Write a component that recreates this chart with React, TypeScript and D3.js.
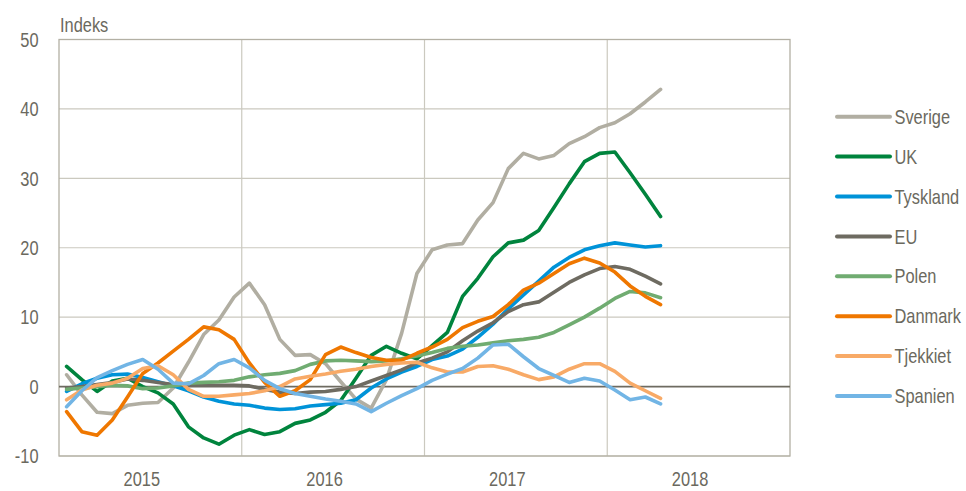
import React, { useRef, useEffect } from "react";
import * as d3 from "d3";

// monthly index values, Jan 2015 - Apr 2018
const years = ["2015", "2016", "2017", "2018"];
const yTicks = [-10, 0, 10, 20, 30, 40, 50];

const sverige = [1.7, -1.2, -3.7, -3.9, -2.7, -2.4, -2.3, -0.2, 3.5, 7.5, 9.6, 12.9, 14.9, 11.8, 6.8, 4.5, 4.6, 3.3, 0.7, -1.8, -3.1, 1.0, 7.7, 16.3, 19.7, 20.4, 20.6, 24.0, 26.5, 31.4, 33.6, 32.8, 33.3, 35.0, 36.0, 37.3, 38.0, 39.3, 41.0, 42.8];
const uk = [2.9, 1.0, -0.7, 0.8, 1.2, 0.0, -0.9, -2.5, -5.8, -7.4, -8.3, -7.0, -6.2, -6.9, -6.5, -5.3, -4.8, -3.7, -2.0, 1.2, 4.5, 5.8, 4.8, 4.0, 5.9, 7.8, 13.0, 15.6, 18.7, 20.7, 21.1, 22.5, 25.8, 29.2, 32.4, 33.6, 33.8, 30.8, 27.7, 24.5];
const tyskland = [-0.7, 0.4, 1.2, 1.7, 1.8, 1.3, 0.7, 0.1, -0.6, -1.5, -2.1, -2.5, -2.7, -3.1, -3.3, -3.2, -2.8, -2.6, -2.4, -1.9, -0.2, 1.1, 2.1, 2.9, 3.9, 4.4, 5.4, 7.1, 9.0, 11.2, 13.2, 15.2, 17.2, 18.6, 19.7, 20.3, 20.7, 20.4, 20.1, 20.3];
const eu = [-0.2, 0.0, 0.3, 0.6, 1.1, 0.9, 0.6, 0.3, 0.2, 0.2, 0.2, 0.2, 0.1, -0.4, -0.8, -1.0, -0.8, -0.7, -0.4, 0.0, 0.8, 1.6, 2.4, 3.4, 4.1, 5.0, 6.6, 8.0, 9.2, 10.8, 11.8, 12.2, 13.6, 15.0, 16.1, 17.0, 17.3, 16.9, 15.9, 14.8];
const polen = [-0.4, -0.2, 0.0, 0.2, 0.1, -0.3, -0.2, 0.1, 0.5, 0.6, 0.7, 0.9, 1.4, 1.7, 1.9, 2.3, 3.2, 3.7, 3.8, 3.7, 3.6, 3.7, 4.0, 4.4, 4.9, 5.5, 5.8, 6.0, 6.3, 6.6, 6.8, 7.1, 7.8, 8.9, 10.0, 11.3, 12.7, 13.7, 13.5, 12.8];
const danmark = [-3.6, -6.5, -7.0, -4.8, -1.5, 1.9, 3.4, 5.1, 6.8, 8.6, 8.2, 6.8, 3.4, 0.6, -1.4, -0.6, 1.0, 4.6, 5.7, 4.9, 4.2, 3.8, 3.8, 4.8, 5.7, 6.8, 8.5, 9.4, 10.1, 11.8, 13.9, 14.9, 16.3, 17.7, 18.5, 17.8, 16.5, 14.5, 13.0, 11.8];
const tjekkiet = [-1.9, -0.5, 0.2, 0.5, 1.2, 2.6, 3.0, 1.7, -0.4, -1.4, -1.4, -1.2, -1.0, -0.6, 0.0, 1.1, 1.5, 1.8, 2.2, 2.5, 2.9, 3.2, 3.4, 3.5, 2.7, 2.1, 2.1, 2.9, 3.0, 2.5, 1.7, 1.0, 1.4, 2.5, 3.3, 3.3, 2.2, 0.5, -0.6, -1.7];
const spanien = [-2.9, -0.6, 1.3, 2.3, 3.2, 3.9, 2.5, 0.5, 0.4, 1.6, 3.3, 3.9, 2.7, 0.9, -0.3, -1.0, -1.4, -1.8, -2.1, -2.5, -3.6, -2.4, -1.3, -0.3, 0.9, 1.8, 2.6, 4.1, 6.0, 6.1, 4.3, 2.6, 1.6, 0.6, 1.2, 0.8, -0.5, -1.9, -1.5, -2.5];

const seriesNames = ["Sverige", "UK", "Tyskland", "EU", "Polen", "Danmark", "Tjekkiet", "Spanien"];
const seriesValues = [sverige, uk, tyskland, eu, polen, danmark, tjekkiet, spanien];
const seriesColors = ["#b1aea2", "#00843d", "#0093d8", "#6e6b61", "#70ac71", "#ef7700", "#f8aa67", "#72b5e5"];

const App: React.FC = () => {
  const chartRef = useRef<SVGSVGElement | null>(null);

  useEffect(() => {
    if (!chartRef.current) return;
    const svg = d3.select(chartRef.current);
    svg.selectAll("*").remove();

    const width = 966;
    const height = 491;
    const left = 59;
    const right = 790;
    const top = 39.5;
    const bottom = 456;
    const font = "'Liberation Sans', Arial, sans-serif";
    const fontSize = 20.5;
    const narrow = 0.8; // the original uses a narrow face
    const textColor = "#6b695e";
    const gridColor = "#cbc9bf";

    svg.attr("width", width).attr("height", height);

    // month categories for the whole axis span
    const months = years.flatMap((yr) => d3.range(12).map((m) => `${yr}-${m}`));

    const x = d3.scaleBand().domain(months).range([left, right]).padding(0);
    const y = d3.scaleLinear().domain([-10, 50]).range([bottom, top]);
    const bw = x.bandwidth();

    const label = (
      g: d3.Selection<any, any, any, any>,
      tx: (d: any, i: number) => number,
      ty: (d: any, i: number) => number
    ) =>
      g
        .attr("transform", (d: any, i: number) => `translate(${tx(d, i)},${ty(d, i)}) scale(${narrow},1)`)
        .attr("font-family", font)
        .attr("font-size", fontSize)
        .attr("fill", textColor);

    // horizontal gridlines
    svg
      .append("g")
      .selectAll("line")
      .data(yTicks.filter((t) => t !== 0))
      .join("line")
      .attr("x1", left)
      .attr("x2", right)
      .attr("y1", (d) => y(d))
      .attr("y2", (d) => y(d))
      .attr("stroke", gridColor)
      .attr("stroke-width", 1.2);

    // vertical year gridlines
    svg
      .append("g")
      .selectAll("line")
      .data(years.slice(1))
      .join("line")
      .attr("x1", (d) => x(`${d}-0`)!)
      .attr("x2", (d) => x(`${d}-0`)!)
      .attr("y1", top)
      .attr("y2", bottom)
      .attr("stroke", gridColor)
      .attr("stroke-width", 1.2);

    // frame
    svg
      .append("rect")
      .attr("x", left)
      .attr("y", top)
      .attr("width", right - left)
      .attr("height", bottom - top)
      .attr("fill", "none")
      .attr("stroke", "#b3b0a4")
      .attr("stroke-width", 1.3);

    // zero line
    svg
      .append("line")
      .attr("x1", left)
      .attr("x2", right)
      .attr("y1", y(0))
      .attr("y2", y(0))
      .attr("stroke", "#6e6b61")
      .attr("stroke-width", 1.6);

    // y tick labels
    svg
      .append("g")
      .selectAll("text")
      .data(yTicks)
      .join("text")
      .call((g) => label(g, () => 38.5, (d) => y(d)))
      .attr("dy", "0.35em")
      .attr("text-anchor", "end")
      .text((d) => d);

    svg
      .append("text")
      .call((g) => label(g, () => left + 1, () => 31.7))
      .text("Indeks");

    // year labels
    svg
      .append("g")
      .selectAll("text")
      .data(years)
      .join("text")
      .call((g) => label(g, (d) => x(`${d}-5`)! + bw / 2 - 1, () => 486))
      .attr("text-anchor", "middle")
      .text((d) => d);

    // series lines
    const line = d3
      .line<number>()
      .x((_, i) => x(months[i])! + bw / 2)
      .y((d) => y(d));

    svg
      .append("g")
      .selectAll("path")
      .data(seriesValues)
      .join("path")
      .attr("d", (d) => line(d))
      .attr("fill", "none")
      .attr("stroke", (_, i) => seriesColors[i])
      .attr("stroke-width", 3.6)
      .attr("stroke-linejoin", "round")
      .attr("stroke-linecap", "round");

    // legend
    const legend = svg
      .append("g")
      .selectAll("g")
      .data(seriesNames)
      .join("g")
      .attr("transform", (_, i) => `translate(837,${116.7 + i * 39.9})`);

    legend
      .append("line")
      .attr("x1", 0)
      .attr("x2", 53)
      .attr("stroke", (_, i) => seriesColors[i])
      .attr("stroke-width", 4)
      .attr("stroke-linecap", "round");

    legend
      .append("text")
      .call((g) => label(g, () => 57.5, () => 0))
      .attr("dy", "0.35em")
      .text((d) => d);
  }, []);

  return (
    <svg
      ref={chartRef}
      style={{ position: "absolute", left: 0, top: 0, background: "#fff" }}
    ></svg>
  );
};

export default App;
